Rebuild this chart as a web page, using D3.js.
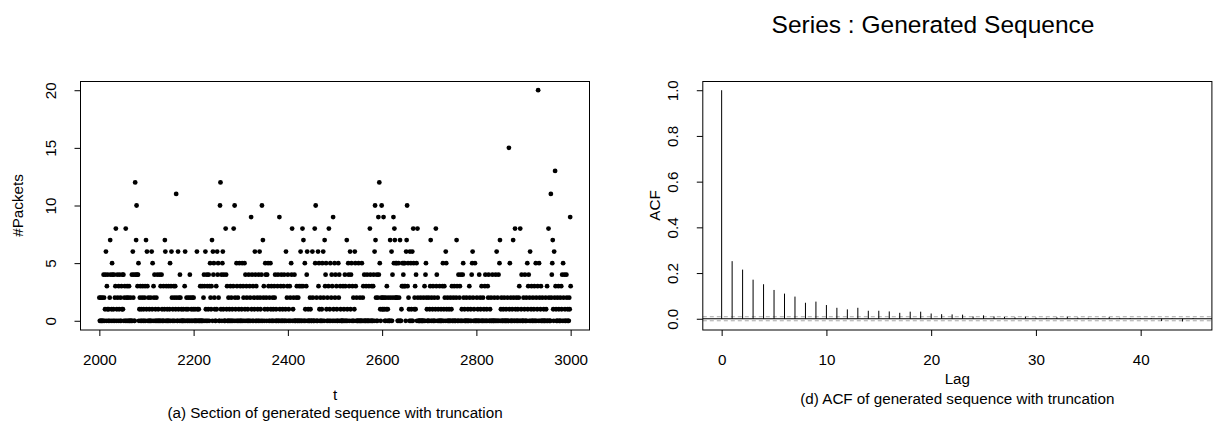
<!DOCTYPE html>
<html>
<head>
<meta charset="utf-8">
<script src="https://cdn.jsdelivr.net/npm/d3@7/dist/d3.min.js"></script>
<style>
  html, body { margin: 0; padding: 0; background: #fff; }
  svg { display: block; }
  text { font-family: "Liberation Sans", Arial, Helvetica, sans-serif; fill: #000; }
</style>
</head>
<body>
<svg id="chart" width="1214" height="423"></svg>
<script>
// ---------------- data ----------------
const tStart = 2000;
// #Packets for t = 2000 ... 3000 (one value per time step)
const packets = [
  2,0,0,2,0,0,2,0,0,4,  2,0,1,4,6,0,3,1,4,0,  1,0,2,7,4,0,1,5,4,0,  1,4,0,2,3,8,0,1,4,2,
  0,3,1,4,0,2,0,3,1,4,  1,4,0,2,3,0,8,0,2,3,  0,2,0,3,0,0,2,0,0,4,  0,6,2,4,0,0,12,4,7,10,
  4,3,4,5,0,1,2,3,0,1,  0,2,3,0,1,0,2,3,0,7,  1,6,3,0,2,0,1,0,0,2,  0,6,1,5,0,3,2,4,0,1,
  0,2,0,4,0,1,0,0,4,0,  3,0,4,1,0,0,3,0,1,7,  6,0,3,0,1,0,0,3,0,1,  5,0,3,6,2,0,1,0,3,2,
  0,3,1,11,2,0,0,6,1,2, 0,4,2,0,1,0,0,0,1,0,  0,3,6,0,1,2,0,0,1,2,  0,0,4,2,0,1,0,2,0,1,
  2,0,0,1,0,0,0,6,1,0,  0,1,0,0,3,0,0,0,3,0,  0,2,4,3,0,6,1,0,4,3,  0,1,4,0,3,5,2,1,3,7,
  0,6,4,5,2,1,0,0,3,1,  6,4,5,2,0,0,10,12,1,4, 0,5,6,1,4,0,0,0,8,4, 1,3,0,0,2,0,1,0,3,0,
  2,0,1,0,3,8,0,10,2,1, 0,5,3,0,2,0,1,5,0,3,  0,0,1,5,0,3,2,0,5,1,  4,0,3,2,0,1,0,4,0,3,
  2,0,9,1,4,0,3,0,2,1,  6,4,0,3,0,2,1,0,4,0,  6,2,1,0,4,10,0,7,2,3, 0,1,5,4,2,0,4,1,5,3,
  0,2,0,5,1,3,0,0,2,1,  0,3,2,4,0,1,0,0,3,4,  0,0,9,1,0,3,4,0,0,1,  0,3,4,0,0,1,6,0,2,3,
  4,0,1,0,3,2,0,5,4,8,  0,1,2,0,4,0,0,0,2,3,  0,0,2,0,3,0,0,6,3,0,  0,8,3,7,0,0,5,1,0,3,
  4,6,0,1,0,0,0,2,1,0,  0,0,6,2,0,0,0,8,5,10, 0,2,0,0,6,3,5,1,0,2,  0,0,1,5,0,6,2,0,7,3,
  4,5,1,0,2,0,3,8,0,1,  5,0,2,4,3,0,9,1,0,5,  2,4,0,3,1,0,0,5,2,4,  0,3,1,0,0,0,0,3,0,1,
  0,4,3,0,0,7,1,0,5,4,  3,0,6,1,4,5,0,3,0,2,  0,1,6,5,3,0,2,0,0,0,  5,0,0,2,0,0,0,5,0,2,
  3,0,4,0,0,0,3,0,4,0,  0,0,3,0,8,4,0,0,3,0,  0,3,4,0,6,10,7,2,0,4, 0,2,9,4,12,5,1,0,2,10,
  1,2,1,9,2,1,0,0,2,1,  3,0,1,2,0,0,0,7,2,0,  6,0,4,2,9,5,8,7,2,5,  2,5,2,0,0,5,2,0,7,0,
  0,1,3,5,3,4,5,3,5,3,  0,6,7,10,3,5,2,1,0,6, 0,5,1,0,6,0,8,5,1,2,  3,1,4,5,0,8,2,0,0,0,
  0,0,2,0,0,0,0,0,2,0,  3,0,4,5,2,1,0,0,0,2,  0,1,3,7,0,2,0,1,3,0,  0,2,0,1,8,3,4,0,2,1,
  0,0,3,0,0,1,0,0,3,5,  0,1,3,2,0,6,5,1,0,2,  0,0,1,0,0,2,0,1,3,0,  0,2,0,3,0,0,0,2,7,3,
  0,0,4,0,2,3,0,4,0,1,  0,4,5,2,0,1,0,0,0,2,  0,0,1,0,0,3,2,0,1,0,  4,5,6,2,0,1,0,5,0,0,
  0,2,0,1,0,0,4,0,2,1,  0,3,0,0,2,0,1,0,3,4,  0,0,1,0,3,2,4,0,0,1,  0,2,0,0,4,0,0,0,2,0,
  0,4,0,6,0,2,0,4,0,5,  7,0,1,2,0,0,0,1,0,2,  0,0,0,1,0,0,2,0,0,15, 1,5,0,2,0,0,1,0,7,2,
  0,0,8,1,0,2,0,0,1,0,  2,3,0,8,0,1,4,0,0,0,  2,0,1,4,0,0,2,0,5,1,  3,4,0,2,6,0,1,3,0,0,
  2,0,1,3,0,0,5,2,0,1,  3,20,0,5,2,0,1,3,0,0, 2,0,0,1,0,0,0,2,1,0,  3,0,0,8,2,0,0,0,11,2,
  4,5,7,1,0,6,2,13,3,1, 0,0,2,0,3,1,0,0,2,0,  3,1,4,0,5,2,0,4,1,0,  0,4,2,0,1,0,0,2,1,9,
  3
];
const xTicksA = [2000, 2200, 2400, 2600, 2800, 3000];
const yTicksA = [0, 5, 10, 15, 20];

const lags = d3.range(0, 46);
const acfValues = [
  1.000, 0.252, 0.215, 0.171, 0.151, 0.126, 0.110, 0.097, 0.070, 0.075,
  0.060, 0.048, 0.041, 0.048, 0.035, 0.035, 0.032, 0.026, 0.031, 0.031,
  0.023, 0.020, 0.019, 0.018, 0.010, 0.015, 0.010, 0.008, 0.006, 0.009,
  0.005, 0.004, 0.006, 0.009, 0.005, 0.004, 0.003, 0.007, 0.004, 0.003,
  0.002, 0.003, -0.010, 0.002, -0.012, 0.003
];
const ciLimit = 0.0088;
const xTicksD = [0, 10, 20, 30, 40];
const yTicksD = [0, 0.2, 0.4, 0.6, 0.8, 1.0];

const titleText = "Series : Generated Sequence";
const captionA = "(a) Section of generated sequence with truncation";
const captionD = "(d) ACF of generated sequence with truncation";

// ---------------- drawing ----------------
const svg = d3.select("#chart");
const FS = 15.2;

function styleAxis(g) {
  g.select(".domain").remove();
  g.selectAll(".tick line").attr("stroke", "#000");
  g.selectAll(".tick text").attr("font-size", FS).attr("fill", "#000")
    .attr("font-family", '"Liberation Sans", Arial, sans-serif');
}

// ----- Panel (a) -----
const A = { l: 80.5, r: 589.5, t: 81, b: 330 };
const xA = d3.scaleLinear().domain([1960, 3040]).range([A.l, A.r]);
const yA = d3.scaleLinear().domain([-0.8, 20.8]).range([A.b, A.t]);

const ptsA = packets.map((v, i) => ({ t: tStart + i, v }));
svg.append("g").selectAll("circle").data(ptsA).join("circle")
  .attr("cx", d => xA(d.t)).attr("cy", d => yA(d.v)).attr("r", 2.4).attr("fill", "#000");

svg.append("rect").attr("x", A.l).attr("y", A.t + 0.5).attr("width", A.r - A.l).attr("height", A.b - A.t - 0.5)
  .attr("fill", "none").attr("stroke", "#000").attr("stroke-width", 1);

svg.append("g").attr("transform", `translate(0,${A.b})`)
  .call(d3.axisBottom(xA).tickValues(xTicksA).tickSize(6).tickPadding(18.2).tickFormat(d3.format("d")))
  .call(styleAxis);

const gyA = svg.append("g").attr("transform", `translate(${A.l},0)`)
  .call(d3.axisLeft(yA).tickValues(yTicksA).tickSize(6).tickFormat(d3.format("d")))
  .call(styleAxis);
gyA.selectAll(".tick text").attr("transform", "rotate(-90)").attr("x", 0).attr("y", -25)
  .attr("dy", 0).attr("text-anchor", "middle");

svg.append("text").attr("transform", `translate(23.3,${(A.t + A.b) / 2}) rotate(-90)`)
  .attr("text-anchor", "middle").attr("font-size", FS).text("#Packets");
svg.append("text").attr("x", (A.l + A.r) / 2).attr("y", 400).attr("text-anchor", "middle")
  .attr("font-size", FS).text("t");
svg.append("text").attr("x", (A.l + A.r) / 2).attr("y", 418).attr("text-anchor", "middle")
  .attr("font-size", FS).text(captionA);

// ----- Panel (d) -----
const D = { l: 702.8, r: 1211.9, t: 81, b: 330 };
const xD = d3.scaleLinear().domain([-1.8, 46.8]).range([D.l, D.r]);
const yD = d3.scaleLinear().domain([-0.0492, 1.0404]).range([D.b, D.t]);

// confidence limits
[ciLimit, -ciLimit].forEach(c => {
  svg.append("line").attr("x1", D.l).attr("x2", D.r).attr("y1", yD(c)).attr("y2", yD(c))
    .attr("stroke", "#a8a8a8").attr("stroke-width", 1).attr("stroke-dasharray", "4,3");
});
// zero line
svg.append("line").attr("x1", D.l).attr("x2", D.r).attr("y1", yD(0)).attr("y2", yD(0))
  .attr("stroke", "#000").attr("stroke-width", 1);

svg.append("g").selectAll("line").data(lags).join("line")
  .attr("x1", d => xD(d)).attr("x2", d => xD(d))
  .attr("y1", yD(0)).attr("y2", d => yD(acfValues[d]))
  .attr("stroke", "#000").attr("stroke-width", 1);

svg.append("rect").attr("x", D.l).attr("y", D.t + 0.5).attr("width", D.r - D.l).attr("height", D.b - D.t - 0.5)
  .attr("fill", "none").attr("stroke", "#000").attr("stroke-width", 1);

svg.append("g").attr("transform", `translate(0,${D.b})`)
  .call(d3.axisBottom(xD).tickValues(xTicksD).tickSize(6).tickPadding(18.2).tickFormat(d3.format("d")))
  .call(styleAxis);

const gyD = svg.append("g").attr("transform", `translate(${D.l},0)`)
  .call(d3.axisLeft(yD).tickValues(yTicksD).tickSize(6).tickFormat(d3.format(".1f")))
  .call(styleAxis);
gyD.selectAll(".tick text").attr("transform", "rotate(-90)").attr("x", 0).attr("y", -24.5)
  .attr("dy", 0).attr("text-anchor", "middle");

svg.append("text").attr("transform", `translate(660,${(D.t + D.b) / 2}) rotate(-90)`)
  .attr("text-anchor", "middle").attr("font-size", FS).text("ACF");
svg.append("text").attr("x", (D.l + D.r) / 2).attr("y", 384).attr("text-anchor", "middle")
  .attr("font-size", FS).text("Lag");
svg.append("text").attr("x", (D.l + D.r) / 2).attr("y", 404).attr("text-anchor", "middle")
  .attr("font-size", FS).text(captionD);

// title
svg.append("text").attr("x", 933).attr("y", 33).attr("text-anchor", "middle")
  .attr("font-size", 24.5).text(titleText);
</script>
</body>
</html>
